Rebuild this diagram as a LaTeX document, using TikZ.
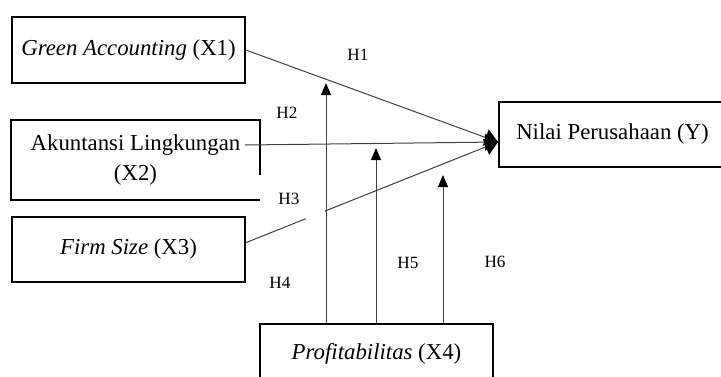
\documentclass[tikz,border=0pt]{standalone}
\usepackage{fontspec}
\setmainfont{Liberation Serif}
\usetikzlibrary{arrows.meta,calc}
\tikzset{
  varbox/.style={draw=black, line width=0.8pt, inner sep=0pt, align=center,
    font=\fontsize{11.4}{15}\selectfont},
  link/.style={draw=black!75, line width=0.5pt},
  mainarrow/.style={link, -{Triangle[length=6.5pt,width=8.5pt,color=black]}},
  modarrow/.style={link, -{Triangle[length=6pt,width=5pt,color=black]}},
  hyp/.style={inner sep=0pt, font=\fontsize{8.6}{10}\selectfont}
}

\begin{document}
\begin{tikzpicture}[x=0.5pt,y=-0.5pt]
			%%%%% START %%%%%
			\useasboundingbox (0,0) rectangle (721,376);
			
			\node[varbox, minimum width=116.5pt, minimum height=33pt] (X1) at (128.5,50) {\raisebox{2.5pt}{\textit{Green Accounting} (X1)}};
			\node[varbox, draw=none, minimum width=123.5pt, minimum height=39pt] (X2) at (135.5,160) {Akuntansi Lingkungan\\(X2)};
			\node[varbox, minimum width=116.5pt, minimum height=32.5pt] (X3) at (128.5,249.5) {\raisebox{3.25pt}{\textit{Firm Size} (X3)}};
			\node[varbox, minimum width=113.5pt, minimum height=32.5pt] (Y) at (612.5,134.5) {\raisebox{3.25pt}{Nilai Perusahaan (Y)}};
			\node[varbox, minimum width=116.5pt, minimum height=31pt] (X4) at (376.5,355) {\raisebox{3.5pt}{\textit{Profitabilitas} (X4)}};
			
			% open corner of the X2 box
			\draw[line width=0.8pt] ([yshift=-27.5pt]X2.north east) -- (X2.north east) -- (X2.north west) -- (X2.south west) -- (X2.south east);
			
			\coordinate (x2out) at (245,145);
			\coordinate (x3out) at (245,243);
			\coordinate (yin) at (498,142);
			
			\draw[mainarrow] (X1.east) -- (yin);
			\draw[mainarrow] (x2out) -- (yin);
			\draw[link] (x3out) -- ($(x3out)!0.24!(yin)$);
			\draw[mainarrow] ($(x3out)!0.316!(yin)$) -- (yin);
			
			\coordinate (m1) at (326,83);
			\coordinate (m2) at (376,148);
			\coordinate (m3) at (443,175);
			
			\draw[modarrow] (X4.north -| m1) -- (m1);
			\draw[modarrow] (X4.north -| m2) -- (m2);
			\draw[modarrow] (X4.north -| m3) -- (m3);
			
			\node[hyp] (H1) at (358,55) {H1};
			\node[hyp] (H2) at (287,113) {H2};
			\node[hyp] (H3) at (289,199) {H3};
			\node[hyp] (H4) at (280,283) {H4};
			\node[hyp] (H5) at (408,263) {H5};
			\node[hyp] (H6) at (495,262) {H6};
			
			%%%%% END %%%%%
\end{tikzpicture}
\end{document}
